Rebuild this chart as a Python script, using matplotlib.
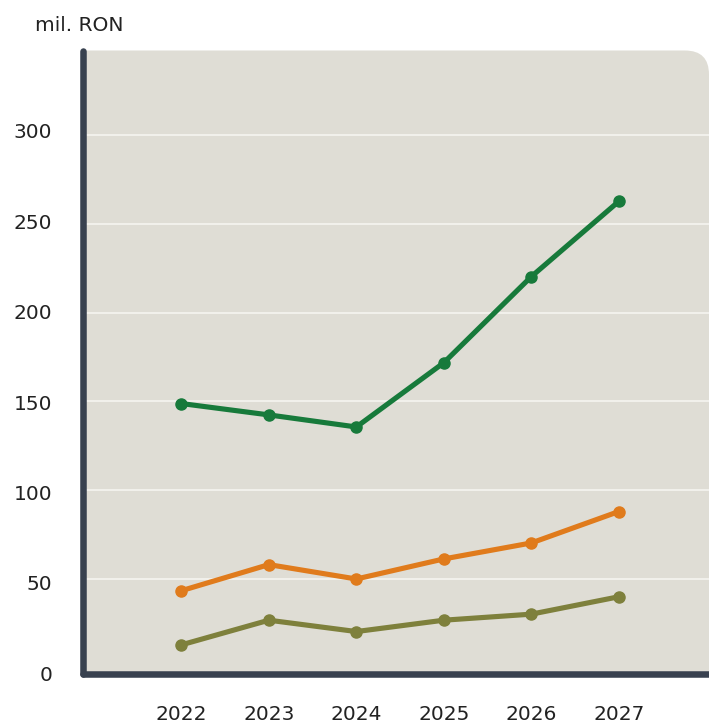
import matplotlib
matplotlib.use("Agg")
import matplotlib.pyplot as plt
from matplotlib.path import Path
from matplotlib.patches import PathPatch

years = [2022, 2023, 2024, 2025, 2026, 2027]
green_vals = [148.8, 142.4, 135.6, 171.8, 220.3, 262.7]
orange_vals = [43.4, 58.1, 50.0, 61.3, 70.3, 88.0]
olive_vals = [12.9, 26.8, 20.4, 26.8, 30.2, 40.0]
y_ticks = [0, 50, 100, 150, 200, 250, 300]
unit_label = "mil. RON"

W, H = 709, 724
fig = plt.figure(figsize=(W / 100, H / 100), dpi=100)

# plot box in pixels (from top)
left_px, right_px, top_px, bottom_px = 82.7, 709, 50.5, 674
ax = fig.add_axes([left_px / W, 1 - bottom_px / H,
                   (right_px - left_px) / W, (bottom_px - top_px) / H])
ax.set_facecolor("none")

# beige panel with only the top-right corner rounded
x0, x1 = left_px / W, right_px / W
y0, y1 = 1 - bottom_px / H, 1 - top_px / H
rx, ry = 24 / W, 24 / H
verts = [(x0, y0), (x1, y0), (x1, y1 - ry), (x1, y1), (x1 - rx, y1), (x0, y1), (x0, y0)]
codes = [Path.MOVETO, Path.LINETO, Path.LINETO, Path.CURVE3, Path.CURVE3,
         Path.LINETO, Path.CLOSEPOLY]
panel = PathPatch(Path(verts, codes), facecolor="#dfddd5", edgecolor="none",
                  transform=fig.transFigure, zorder=-1)
fig.add_artist(panel)

line_kw = dict(linewidth=3.7, marker="o", markersize=8, solid_capstyle="round",
               solid_joinstyle="round", zorder=3)
ax.plot(years, green_vals, color="#177a3b", **line_kw)
ax.plot(years, orange_vals, color="#e07b1c", **line_kw)
ax.plot(years, olive_vals, color="#7e803c", **line_kw)

ax.set_xlim(2020.873, 2028.03)
ax.set_ylim(-3.5, 347.6)

ax.set_yticks(y_ticks)
ax.yaxis.grid(True, color="#f7f6f2", linewidth=1.1)
ax.get_ygridlines()[0].set_visible(False)
ax.set_axisbelow(True)
ax.tick_params(axis="y", length=0, labelleft=False)

ax.set_xticks(years)
ax.set_xticklabels([str(y) for y in years])
ax.tick_params(axis="x", length=0, pad=22, labelsize=14.5, labelcolor="#222222")

for side in ["top", "right"]:
    ax.spines[side].set_visible(False)
for side in ["left", "bottom"]:
    ax.spines[side].set_linewidth(4.7)
    ax.spines[side].set_color("#38414f")
    ax.spines[side].set_capstyle("round")

# y labels sit on a slightly different spacing than the gridlines
sec = ax.secondary_yaxis("left", functions=(lambda d: (d + 3.097) / 1.0184,
                                             lambda v: v * 1.0184 - 3.097))
sec.set_yticks(y_ticks)
sec.tick_params(length=0, pad=22, labelsize=14.5, labelcolor="#222222")
sec.spines["left"].set_visible(False)

fig.text(35 / W, 1 - 30.7 / H, unit_label, fontsize=14.5, color="#222222",
         ha="left", va="baseline")

fig.savefig("out.png", dpi=100)
